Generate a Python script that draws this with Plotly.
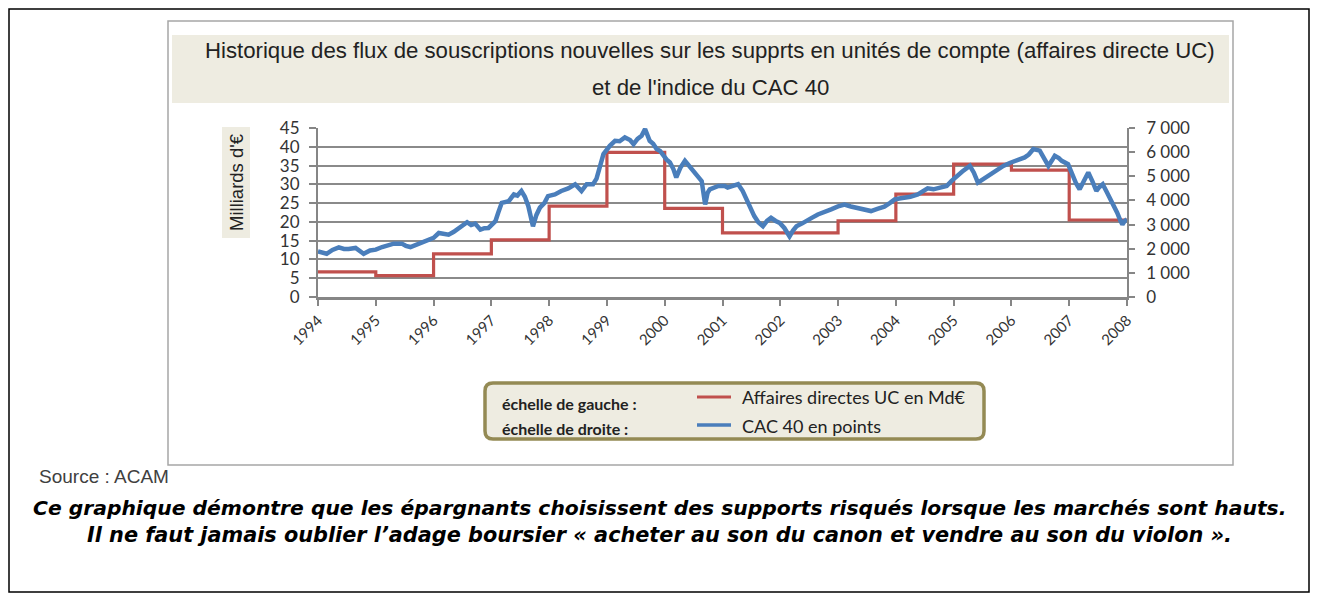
import plotly.graph_objects as go

# ---------------- data ----------------
uc_years = [1994, 1995, 1996, 1997, 1998, 1999, 2000, 2001, 2002, 2003, 2004, 2005, 2006, 2007]
uc_values = [6.7, 5.7, 11.5, 15.2, 24.2, 38.5, 23.6, 17.1, 17.1, 20.3, 27.4, 35.4, 33.8, 20.5]
uc_end_year = 2008

cac_x = [1994.00, 1994.08, 1994.15, 1994.25, 1994.36, 1994.45, 1994.53, 1994.65, 1994.72, 1994.79,
         1994.90, 1995.00, 1995.11, 1995.20, 1995.31, 1995.45, 1995.52, 1995.60, 1995.74, 1995.83,
         1995.92, 1996.00, 1996.09, 1996.18, 1996.26, 1996.35, 1996.43, 1996.50, 1996.58, 1996.65,
         1996.72, 1996.81, 1996.88, 1996.95, 1997.07, 1997.12, 1997.18, 1997.30, 1997.39, 1997.45,
         1997.52, 1997.58, 1997.64, 1997.72, 1997.78, 1997.84, 1997.92, 1997.98, 1998.10, 1998.21,
         1998.33, 1998.45, 1998.50, 1998.56, 1998.65, 1998.76, 1998.82, 1998.88, 1998.94, 1999.05,
         1999.14, 1999.22, 1999.31, 1999.40, 1999.46, 1999.53, 1999.60, 1999.66, 1999.70, 1999.74,
         1999.80, 1999.86, 1999.92, 1999.97, 2000.03, 2000.09, 2000.15, 2000.20, 2000.27, 2000.35,
         2000.42, 2000.49, 2000.57, 2000.64, 2000.70, 2000.74, 2000.78, 2000.86, 2000.93, 2001.04,
         2001.09, 2001.18, 2001.27, 2001.35, 2001.44, 2001.50, 2001.55, 2001.62, 2001.70, 2001.77,
         2001.84, 2001.92, 2001.99, 2002.07, 2002.16, 2002.22, 2002.28, 2002.38, 2002.48, 2002.56,
         2002.65, 2002.76, 2002.88, 2003.00, 2003.11, 2003.22, 2003.34, 2003.45, 2003.57, 2003.68,
         2003.80, 2003.90, 2003.98, 2004.06, 2004.15, 2004.25, 2004.38, 2004.46, 2004.55, 2004.65,
         2004.75, 2004.88, 2004.96, 2005.05, 2005.15, 2005.28, 2005.35, 2005.42, 2005.52, 2005.63,
         2005.75, 2005.86, 2005.97, 2006.09, 2006.23, 2006.30, 2006.38, 2006.49, 2006.56, 2006.64,
         2006.70, 2006.75, 2006.82, 2006.87, 2006.98, 2007.07, 2007.12, 2007.18, 2007.25, 2007.33,
         2007.40, 2007.47, 2007.52, 2007.58, 2007.65, 2007.72, 2007.78, 2007.83, 2007.88, 2007.92,
         2007.96, 2008.00]
cac_values = [1890, 1820, 1790, 1950, 2055, 1990, 1985, 2030, 1900, 1790,
              1930, 1960, 2070, 2150, 2210, 2210, 2120, 2070, 2210, 2280,
              2350, 2450, 2650, 2620, 2580, 2700, 2860, 2960, 3100, 2980,
              3040, 2790, 2850, 2860, 3140, 3500, 3900, 3970, 4250, 4200,
              4390, 4150, 3760, 2930, 3400, 3700, 3900, 4180, 4250, 4390,
              4500, 4670, 4550, 4390, 4670, 4670, 4900, 5500, 5920, 6260,
              6470, 6450, 6610, 6500, 6330, 6550, 6680, 6960, 6650, 6470,
              6350, 6130, 6050, 5850, 5700, 5570, 5300, 4950, 5350, 5640,
              5450, 5220, 5000, 4800, 3830, 4300, 4460, 4550, 4600, 4600,
              4530, 4600, 4670, 4390, 3900, 3600, 3350, 3100, 2930, 3150,
              3280, 3150, 3070, 2860, 2510, 2750, 2930, 3050, 3210, 3300,
              3420, 3500, 3630, 3750, 3830, 3750, 3700, 3650, 3560, 3650,
              3740, 3900, 4040, 4080, 4110, 4150, 4250, 4350, 4500, 4460,
              4520, 4600, 4800, 5010, 5200, 5430, 5150, 4740, 4900, 5080,
              5250, 5430, 5550, 5640, 5780, 5900, 6130, 6060, 5800, 5430,
              5650, 5850, 5750, 5640, 5500, 4950, 4700, 4460, 4800, 5160,
              4800, 4390, 4550, 4670, 4350, 4040, 3800, 3490, 3200, 3000,
              3150, 3210]

year_ticks = list(range(1994, 2009))
left_ticks = [0, 5, 10, 15, 20, 25, 30, 35, 40, 45]
right_ticks = [0, 1000, 2000, 3000, 4000, 5000, 6000, 7000]
right_labels = ["0", "1 000", "2 000", "3 000", "4 000", "5 000", "6 000", "7 000"]

title_l1 = "Historique des flux de souscriptions nouvelles sur les supprts en unités de compte (affaires directe UC)"
title_l2 = "et de l'indice du CAC 40"
ytitle = "Milliards d'€"
legend_left = ["échelle de gauche :", "échelle de droite :"]
series_names = ["Affaires directes UC en Md€", "CAC 40 en points"]
source_txt = "Source : ACAM"
comment_l1 = "Ce graphique démontre que les épargnants choisissent des supports risqués lorsque les marchés sont hauts."
comment_l2 = "Il ne faut jamais oublier l’adage boursier « acheter au son du canon et vendre au son du violon »."

# ---------------- layout geometry (screen pixels) ----------------
OFF = 8                      # default page body margin
W, H = 1318 - OFF, 601 - OFF
L, R, T, B = 318, 1127, 128, 297   # plot area on screen

def px(x):
    return (x - L) / (R - L)

def py(y):
    return (B - y) / (B - T)

RED = "#C0504D"
BLUE = "#4A7EBB"
BEIGE = "#EEECE1"
GRID = "#8A8A8A"
AXIS = "#868686"
TXT = "#333333"

fig = go.Figure()

fig.add_trace(go.Scatter(
    x=uc_years + [uc_end_year], y=uc_values + [uc_values[-1]],
    mode="lines", line=dict(color=RED, width=3.2, shape="hv"),
    name=series_names[0], showlegend=False, yaxis="y"))

fig.add_trace(go.Scatter(
    x=cac_x, y=cac_values, mode="lines",
    line=dict(color=BLUE, width=4.5),
    name=series_names[1], showlegend=False, yaxis="y2"))

shapes = []
# outer black border
shapes.append(dict(type="rect", xref="paper", yref="paper",
                   x0=px(9), x1=px(1309), y0=py(9), y1=py(592),
                   line=dict(color="black", width=1.5), fillcolor="rgba(0,0,0,0)", layer="below"))
# chart frame
shapes.append(dict(type="rect", xref="paper", yref="paper",
                   x0=px(168), x1=px(1233), y0=py(21), y1=py(465),
                   line=dict(color="#A6A6A6", width=1.5), fillcolor="white", layer="below"))
# title band
shapes.append(dict(type="rect", xref="paper", yref="paper",
                   x0=px(172), x1=px(1229), y0=py(35), y1=py(103),
                   line=dict(width=0), fillcolor=BEIGE, layer="below"))
# y-title box
shapes.append(dict(type="rect", xref="paper", yref="paper",
                   x0=px(222), x1=px(250), y0=py(127), y1=py(238),
                   line=dict(width=0), fillcolor=BEIGE, layer="below"))

# rounded legend box
lx0, lx1, ly0, ly1, rr = 485, 984, 383, 439, 8
X = lambda v: f"{px(v):.5f}"
Y = lambda v: f"{py(v):.5f}"
path = (f"M {X(lx0+rr)},{Y(ly0)} L {X(lx1-rr)},{Y(ly0)} Q {X(lx1)},{Y(ly0)} {X(lx1)},{Y(ly0+rr)} "
        f"L {X(lx1)},{Y(ly1-rr)} Q {X(lx1)},{Y(ly1)} {X(lx1-rr)},{Y(ly1)} "
        f"L {X(lx0+rr)},{Y(ly1)} Q {X(lx0)},{Y(ly1)} {X(lx0)},{Y(ly1-rr)} "
        f"L {X(lx0)},{Y(ly0+rr)} Q {X(lx0)},{Y(ly0)} {X(lx0+rr)},{Y(ly0)} Z")
shapes.append(dict(type="path", xref="paper", yref="paper", path=path,
                   line=dict(color="#948A54", width=3.5), fillcolor=BEIGE, layer="below"))
# legend line samples
shapes.append(dict(type="line", xref="paper", yref="paper",
                   x0=px(697), x1=px(731), y0=py(397), y1=py(397),
                   line=dict(color=RED, width=3.2)))
shapes.append(dict(type="line", xref="paper", yref="paper",
                   x0=px(697), x1=px(731), y0=py(425), y1=py(425),
                   line=dict(color=BLUE, width=3.5)))

def ann(x, y, text, family, size, color="#222", xanchor="center", angle=0):
    return dict(xref="paper", yref="paper", x=px(x), y=py(y), text=text, showarrow=False,
                textangle=angle, font=dict(family=family, size=size, color=color),
                xanchor=xanchor, yanchor="middle")

annotations = [
    ann(710, 51, title_l1, "Liberation Sans", 22.2),
    ann(710, 88, title_l2, "Liberation Sans", 22.2),
    ann(236, 182, ytitle, "Liberation Sans", 18.5, angle=-90),
    ann(500, 403, "<b>" + legend_left[0] + "</b>", "Lato", 16, xanchor="left"),
    ann(500, 428, "<b>" + legend_left[1] + "</b>", "Lato", 16, xanchor="left"),
    ann(740, 397, series_names[0], "Lato", 18, xanchor="left"),
    ann(740, 426, series_names[1], "Lato", 18, xanchor="left"),
    ann(37, 476, source_txt, "Liberation Sans", 19, color="#404040", xanchor="left"),
    ann(659, 508, "<b><i>" + comment_l1 + "</i></b>", "DejaVu Sans", 20.3, color="black"),
    ann(659, 535, "<b><i>" + comment_l2 + "</i></b>", "DejaVu Sans", 20.8, color="black"),
]

fig.update_layout(
    width=W, height=H,
    margin=dict(l=L - OFF, r=(1318 - OFF) - (R - OFF), t=T - OFF, b=(601 - OFF) - (B - OFF), pad=0),
    paper_bgcolor="white", plot_bgcolor="white",
    showlegend=False,
    shapes=shapes, annotations=annotations,
    xaxis=dict(range=[1994, 2008], tickvals=year_ticks, ticktext=[str(y) for y in year_ticks],
               tickangle=-45, showgrid=False, zeroline=False,
               showline=True, linecolor=AXIS, linewidth=2.5,
               ticks="outside", ticklen=6, tickwidth=1.5, tickcolor=AXIS,
               tickfont=dict(family="Lato", size=15, color=TXT)),
    yaxis=dict(range=[0, 45], tickvals=left_ticks, showgrid=True, gridcolor=GRID, gridwidth=1.6,
               zeroline=False, showline=True, linecolor=AXIS, linewidth=2,
               ticks="outside", ticklen=7, tickwidth=1.5, tickcolor=AXIS,
               ticklabelstandoff=6,
               tickfont=dict(family="Lato", size=17, color=TXT)),
    yaxis2=dict(range=[0, 7000], tickvals=right_ticks, ticktext=right_labels,
                overlaying="y", side="right", showgrid=False, zeroline=False,
                showline=True, linecolor=AXIS, linewidth=1.5,
                ticks="outside", ticklen=6, tickwidth=1.5, tickcolor=AXIS,
                ticklabelstandoff=8,
                tickfont=dict(family="Lato", size=17, color=TXT)),
)

fig.write_html("out.html")
